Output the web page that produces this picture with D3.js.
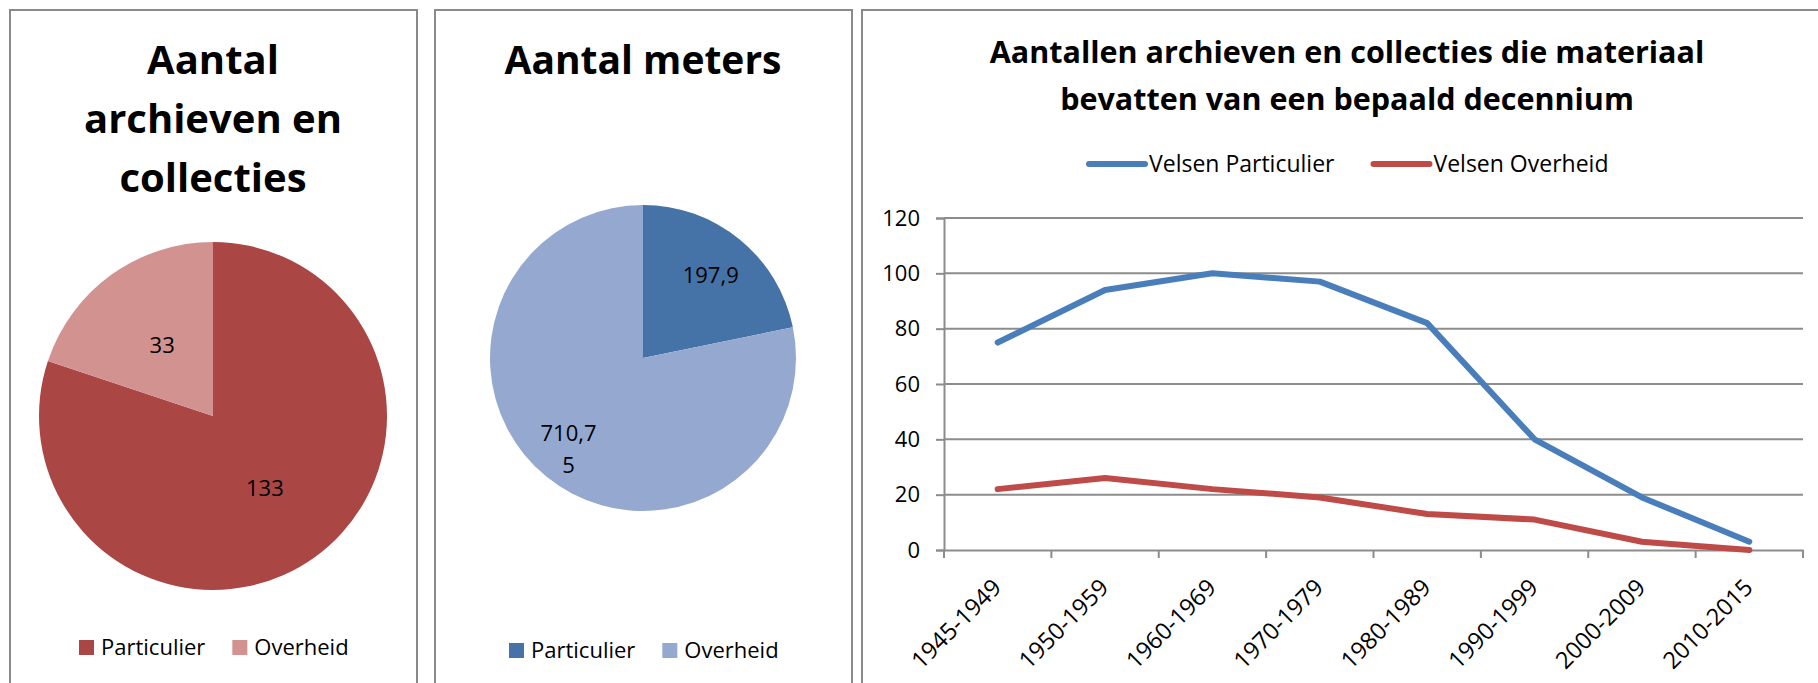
<!DOCTYPE html>
<html>
<head>
<meta charset="utf-8">
<script src="https://cdn.jsdelivr.net/npm/d3@7/dist/d3.min.js"></script>
<style>
  html, body { margin: 0; padding: 0; background: #ffffff; }
  svg { display: block; font-family: "Open Sans", "DejaVu Sans", sans-serif; }
</style>
</head>
<body>
<svg id="chart" width="1818" height="683"></svg>
<script>
// ---- data ----
const pieCategories = ["Particulier", "Overheid"];
const archiefAantallen = [133, 33];
const archiefMeters = [197.9, 710.75];

const decennia = ["1945-1949", "1950-1959", "1960-1969", "1970-1979",
                  "1980-1989", "1990-1999", "2000-2009", "2010-2015"];
const velsenParticulier = [75, 94, 100, 97, 82, 40, 19, 3];
const velsenOverheid = [22, 26, 22, 19, 13, 11, 3, 0];
const lineSeriesNames = ["Velsen Particulier", "Velsen Overheid"];
const yTicks = [0, 20, 40, 60, 80, 100, 120];

// ---- helpers ----
const nl = d3.formatLocale({ decimal: ",", thousands: ".", grouping: [3], currency: ["€ ", ""] });
const fmt = nl.format("");

const svg = d3.select("#chart");
const borderColor = "#8a8a8a";

function panelFrame(x0, x1) {
  svg.append("rect")
    .attr("x", x0).attr("y", 10)
    .attr("width", x1 - x0).attr("height", 700)
    .attr("fill", "#ffffff")
    .attr("stroke", borderColor).attr("stroke-width", 2);
}

// split a label into chunks of at most n characters (data-label wrapping)
function chunk(str, n) {
  const out = [];
  for (let i = 0; i < str.length; i += n) out.push(str.slice(i, i + n));
  return out;
}

function drawPie(opts) {
  const g = svg.append("g");
  // title
  const title = g.append("text")
    .attr("text-anchor", "middle")
    .attr("font-weight", 700)
    .attr("font-size", opts.titleSize)
    .attr("fill", "#000");
  opts.title.forEach((line, i) => {
    title.append("tspan").attr("x", opts.cx).attr("y", opts.titleY + i * 59).text(line);
  });

  const pie = d3.pie().sort(null).startAngle(0).endAngle(2 * Math.PI);
  const arcs = pie(opts.values);
  const arc = d3.arc().innerRadius(0).outerRadius(opts.r);
  const pg = g.append("g").attr("transform", `translate(${opts.cx},${opts.cy})`);
  pg.selectAll("path").data(arcs).join("path")
    .attr("d", arc)
    .attr("fill", (d, i) => opts.colors[i]);

  const lbl = pg.selectAll("text.lbl").data(arcs).join("text")
    .attr("class", "lbl")
    .attr("text-anchor", "middle")
    .attr("font-size", 22)
    .attr("fill", "#000")
    .attr("transform", (d, i) => {
      const rr = opts.r * opts.labelRatio[i];
      const c = d3.arc().innerRadius(rr).outerRadius(rr).centroid(d);
      return `translate(${c[0]},${c[1]})`;
    });
  lbl.each(function (d) {
    const lines = chunk(fmt(d.data), 5);
    const t = d3.select(this);
    lines.forEach((ln, k) => {
      t.append("tspan").attr("x", 0)
        .attr("y", (k - (lines.length - 1) / 2) * 32)
        .attr("dy", "0.36em")
        .text(ln);
    });
  });

  // legend
  const lg = g.append("g").attr("font-size", 22);
  let x = opts.legendX;
  pieCategories.forEach((name, i) => {
    lg.append("rect").attr("x", x).attr("y", opts.legendY - 15)
      .attr("width", 15).attr("height", 15).attr("fill", opts.colors[i]);
    const t = lg.append("text").attr("x", x + 22).attr("y", opts.legendY)
      .attr("fill", "#000").text(name);
    x += 22 + t.node().getComputedTextLength() + 27;
  });
}

// ---- panels ----
panelFrame(10, 417);
panelFrame(435, 852);
panelFrame(862, 1830);

drawPie({
  title: ["Aantal", "archieven en", "collecties"],
  titleSize: 40, titleY: 74,
  cx: 213, cy: 416, r: 174,
  values: archiefAantallen,
  colors: ["#AA4643", "#D29290"],
  labelRatio: [0.51, 0.5],
  legendX: 79, legendY: 655
});

drawPie({
  title: ["Aantal meters"],
  titleSize: 39, titleY: 74,
  cx: 643, cy: 358, r: 153,
  values: archiefMeters,
  colors: ["#4572A7", "#95A9D0"],
  labelRatio: [0.7, 0.77],
  legendX: 509, legendY: 658
});

// ---- line chart ----
const lc = svg.append("g");
const plot = { left: 944, right: 1803, top: 218, bottom: 550 };

const titleLines = ["Aantallen archieven en collecties die materiaal",
                    "bevatten van een bepaald decennium"];
const tt = lc.append("text").attr("text-anchor", "middle")
  .attr("font-weight", 700).attr("font-size", 30.5).attr("fill", "#000");
titleLines.forEach((ln, i) => {
  tt.append("tspan").attr("x", 1347).attr("y", 63 + i * 47).text(ln);
});

const x = d3.scaleBand().domain(decennia).range([plot.left, plot.right]);
const y = d3.scaleLinear().domain([0, 120]).range([plot.bottom, plot.top]);

// gridlines
lc.append("g").selectAll("line").data(yTicks.filter(v => v > 0)).join("line")
  .attr("x1", plot.left).attr("x2", plot.right)
  .attr("y1", d => y(d)).attr("y2", d => y(d))
  .attr("stroke", "#8c8c8c").attr("stroke-width", 2);

// y axis
const yAxis = lc.append("g").attr("transform", `translate(${plot.left},0)`)
  .call(d3.axisLeft(y).tickValues(yTicks).tickSize(8).tickPadding(16).tickFormat(d3.format("d")));
yAxis.select(".domain").attr("stroke", "#8c8c8c").attr("stroke-width", 2);
yAxis.selectAll(".tick line").attr("stroke", "#8c8c8c").attr("stroke-width", 2);
yAxis.selectAll(".tick text").attr("font-size", 22).attr("fill", "#000")
  .attr("font-family", "'Open Sans', sans-serif");

// x axis: labels from the axis, tick marks on band boundaries
const xAxis = lc.append("g").attr("transform", `translate(0,${plot.bottom})`)
  .call(d3.axisBottom(x).tickSize(0).tickSizeOuter(0).tickFormat(""));
xAxis.select(".domain").attr("stroke", "#8c8c8c").attr("stroke-width", 2);
const bounds = decennia.map(d => x(d)).concat([x(decennia[decennia.length - 1]) + x.bandwidth()]);
xAxis.append("g").selectAll("line").data(bounds).join("line")
  .attr("x1", d => d).attr("x2", d => d).attr("y1", 0).attr("y2", 8)
  .attr("stroke", "#8c8c8c").attr("stroke-width", 2);
xAxis.append("g").selectAll("text").data(decennia).join("text")
  .attr("transform", d => `translate(${x(d) + x.bandwidth() / 2 + 5},39) rotate(-45)`)
  .attr("text-anchor", "end")
  .attr("font-size", 23.5).attr("fill", "#000")
  .attr("font-family", "'Open Sans', sans-serif")
  .text(d => d);

// series lines
const lineGen = d3.line()
  .x((d, i) => x(decennia[i]) + x.bandwidth() / 2)
  .y(d => y(d));
const seriesColors = ["#4A7EBB", "#BE4B48"];
[velsenParticulier, velsenOverheid].forEach((vals, i) => {
  lc.append("path").datum(vals)
    .attr("d", lineGen)
    .attr("fill", "none")
    .attr("stroke", seriesColors[i])
    .attr("stroke-width", 6)
    .attr("stroke-linejoin", "round")
    .attr("stroke-linecap", "round");
});

// legend
const lleg = lc.append("g").attr("font-size", 23);
let lx = 1089;
lineSeriesNames.forEach((name, i) => {
  lleg.append("line").attr("x1", lx).attr("x2", lx + 56)
    .attr("y1", 164).attr("y2", 164)
    .attr("stroke", seriesColors[i]).attr("stroke-width", 6).attr("stroke-linecap", "round");
  const t = lleg.append("text").attr("x", lx + 60).attr("y", 172).attr("fill", "#000").text(name);
  lx += 60 + t.node().getComputedTextLength() + 39;
});
</script>
</body>
</html>
